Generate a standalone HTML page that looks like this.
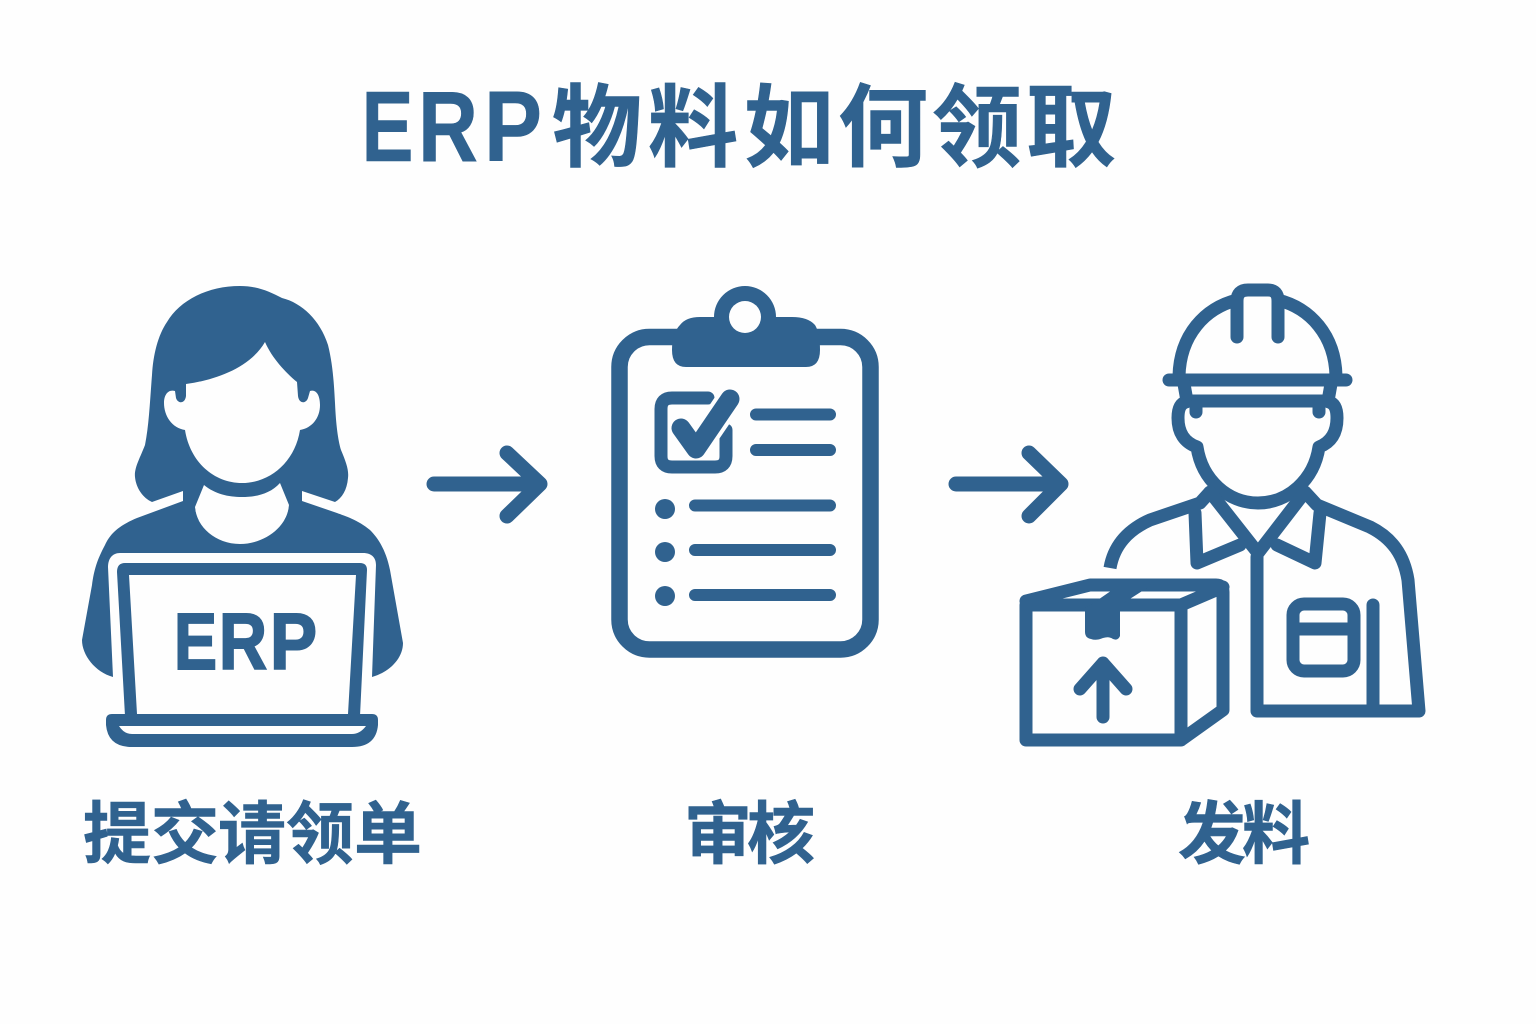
<!DOCTYPE html>
<html lang="zh"><head><meta charset="utf-8"><title>ERP物料如何领取</title>
<style>
html,body{margin:0;padding:0;background:#fefefe}
svg{display:block}
text{fill:#30628f;stroke:#30628f;stroke-width:.6;font-family:"Liberation Sans","Noto Sans CJK SC",sans-serif;font-weight:700}
.c{font-family:"Noto Sans CJK SC","Liberation Sans",sans-serif;text-anchor:middle}
.s{fill:none;stroke:#30628f;stroke-width:13;stroke-linecap:round;stroke-linejoin:round}
</style></head><body>
<svg width="1536" height="1024" viewBox="0 0 1536 1024" xmlns="http://www.w3.org/2000/svg">
<rect width="1536" height="1024" fill="#fefefe"/>
<!-- title -->
<g font-size="100">
<text x="361.5" y="161" textLength="52" lengthAdjust="spacingAndGlyphs">E</text>
<text x="418" y="161" textLength="60" lengthAdjust="spacingAndGlyphs">R</text>
<text x="484" y="161" textLength="58" lengthAdjust="spacingAndGlyphs">P</text>
</g>
<g font-size="90">
<text class="c" x="597" y="159">物</text><text class="c" x="693" y="159">料</text><text class="c" x="789" y="159">如</text><text class="c" x="883" y="159">何</text><text class="c" x="977" y="159">领</text><text class="c" x="1071" y="159">取</text>
</g>
<!-- woman -->
<path fill="#30628f" d="M240 286C258 286 270 292 282 298C302 303 320 320 328 345C333 365 334 385 335 403C336 425 338 440 341 450C346 462 349 470 348 478C347 490 342 498 335 502L302 491L302 520L183 520L183 491L152 502C143 498 136 488 135 477C134 468 140 458 145 445C149 425 150 400 152 375C153 355 158 335 167 322C180 300 208 286 240 286Z"/>
<path fill="#fefefe" d="M186 384C215 380 250 368 265 342C272 358 285 372 297 382L298 396C299 404 306 404 308 398L310 391C316 389 320 395 320 405C320 418 312 428 300 430C295 462 270 483 242 483C214 483 190 462 185 430C172 428 164 416 164 403C164 395 168 389 175 391L176 398C178 404 185 404 186 396Z"/>
<path fill="#fefefe" d="M204 485C215 494 228 497 242 497C256 497 270 494 280 483L289 505C288 526 265 544 240 544C215 544 196 526 195 507Z"/>
<path fill="#30628f" d="M183 501L137 518C118 526 110 534 105 545C97 560 94 570 92 585L82 640C82 655 95 672 113 677L108 567C108 559 112 553 120 553L363 553C372 553 376 558 376 565L372 677C390 672 403 658 403 643L390 570C386 550 378 538 370 530C358 520 345 516 337 513L302 501L289 505C288 526 265 544 240 544C215 544 196 526 195 507Z"/>
<path fill="#30628f" fill-rule="evenodd" d="M125 563L360 563Q367 563 367 570L360 716L125 716L117 572Q117 563 125 563ZM129 575L137 714L348 714L356 575Z"/>
<path fill="#30628f" fill-rule="evenodd" d="M112 714L372 714Q378 714 378 720L378 725Q376 747 352 747L132 747Q108 747 106 725L106 720Q106 714 112 714ZM119 726Q124 734 132 734L352 734Q360 734 366 726Z"/>
<g font-size="80" style="stroke-width:2">
<text x="174" y="669" textLength="43" lengthAdjust="spacingAndGlyphs" style="stroke-width:2">E</text>
<text x="219" y="669" textLength="48" lengthAdjust="spacingAndGlyphs" style="stroke-width:2">R</text>
<text x="270" y="669" textLength="47" lengthAdjust="spacingAndGlyphs" style="stroke-width:2">P</text>
</g>
<!-- arrows -->
<g class="s" style="stroke-width:15">
<path d="M434 484H539M507 453L540 484L507 516"/>
<path d="M956 484H1060M1029 453L1061 484L1029 516"/>
</g>
<!-- clipboard -->
<rect x="619.5" y="337" width="251" height="312.5" rx="30" fill="none" stroke="#30628f" stroke-width="16.5"/>
<path fill="#30628f" d="M672 350Q672 333 680 325Q686 317 700 317L714 317A31 31 0 0 1 776 317L792 317Q808 317 815 325Q820 333 820 350Q820 367 806 367L686 367Q672 367 672 350Z"/>
<circle cx="745" cy="317" r="16" fill="#fefefe"/>
<path class="s" d="M708 398H672Q661 398 661 409V456Q661 467 672 467H715Q726 467 726 456V430" stroke-linecap="butt"/>
<path d="M696 449L730 399" fill="none" stroke="#fefefe" stroke-width="27" stroke-linecap="butt"/>
<path d="M681 428L696 449L730 399" fill="none" stroke="#30628f" stroke-width="19" stroke-linecap="round" stroke-linejoin="round"/>
<path class="s" style="stroke-width:12" d="M756 414.5H830M756 450H830M695 505.5H830M695 550H830M695 595H830"/>
<g fill="#30628f"><circle cx="665" cy="509" r="10"/><circle cx="665" cy="552" r="10"/><circle cx="665" cy="596" r="10"/></g>
<!-- worker -->
<g class="s">
<path d="M1179 376C1180 335 1205 308 1237 300M1278 300C1310 308 1335 335 1336 376"/>
<path d="M1237 337V301Q1237 290 1248 290H1268Q1278 290 1278 301V337"/>
<path d="M1169 380H1346"/>
<path d="M1187 401H1328M1184 384L1187 401M1331 384L1328 401"/>
<path d="M1186 402Q1178 404 1178 418Q1178 440 1197 447C1202 480 1228 503 1258 503C1288 503 1314 480 1319 447Q1337 440 1337 418Q1337 404 1329 402"/>
<path d="M1196 405V412M1319 405V412"/>
<path stroke-linecap="butt" d="M1110 568C1114 545 1128 530 1150 520L1200 503L1210 492"/>
<path d="M1210 492L1258 553L1305 492L1317 505L1370 527C1392 538 1404 555 1408 580L1419 711H1257V557"/>
<path d="M1195 513L1197 563L1240 545M1320 513L1315 563L1277 545"/>
<rect x="1293" y="604" width="61" height="67" rx="11"/>
<path d="M1293 629H1354M1373 605V708"/>
<path d="M1026 605H1181V740H1026ZM1026 601L1090 585H1216Q1223 585 1223 592V710L1181 740M1181 605L1223 587"/>
<path d="M1103 717V663M1080 689L1103 663L1126 689"/>
</g>
<path fill="#30628f" d="M1085 608L1092 604L1118 586L1150 586L1122 604L1120 608V636Q1118 641 1113 639Q1109 636 1103 638Q1096 641 1091 639Q1085 638 1085 632Z"/>
<!-- labels -->
<g font-size="68">
<text class="c" x="117" y="858">提</text><text class="c" x="185" y="858">交</text><text class="c" x="252" y="858">请</text><text class="c" x="320" y="858">领</text><text class="c" x="388" y="858">单</text>
<text class="c" x="718" y="858">审</text><text class="c" x="781" y="858">核</text>
<text class="c" x="1212" y="858">发</text><text class="c" x="1276" y="858">料</text>
</g>
</svg>
</body></html>
